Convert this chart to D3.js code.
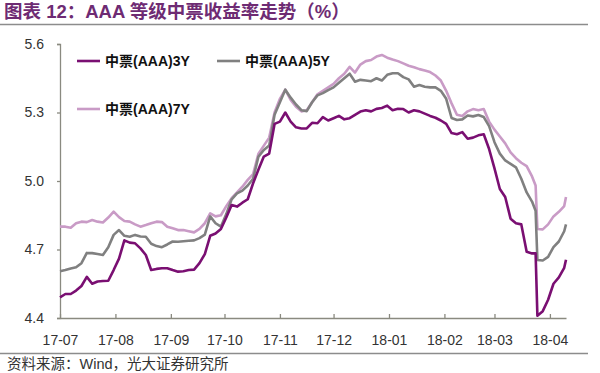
<!DOCTYPE html>
<html>
<head>
<meta charset="utf-8">
<script src="https://cdnjs.cloudflare.com/ajax/libs/d3/7.8.5/d3.min.js"></script>
<style>
body{margin:0;background:#fff}
svg{display:block;font-family:"Liberation Sans",Arial,"Noto Sans CJK SC",sans-serif}
</style>
</head>
<body>
<svg id="chart"></svg>
<script>
// dates and yields
var dates = ["2017-07-01","2017-07-04","2017-07-07","2017-07-10","2017-07-13","2017-07-16","2017-07-19","2017-07-22","2017-07-25","2017-07-28",
 "2017-07-31","2017-08-03","2017-08-06","2017-08-09","2017-08-12","2017-08-15","2017-08-18","2017-08-21","2017-08-24","2017-08-27",
 "2017-08-30","2017-09-02","2017-09-05","2017-09-08","2017-09-11","2017-09-14","2017-09-17","2017-09-20","2017-09-23","2017-09-26",
 "2017-09-29","2017-10-02","2017-10-05","2017-10-08","2017-10-11","2017-10-14","2017-10-17","2017-10-20","2017-10-23","2017-10-26",
 "2017-10-29","2017-11-01","2017-11-04","2017-11-07","2017-11-10","2017-11-13","2017-11-16","2017-11-19","2017-11-22","2017-11-25",
 "2017-11-28","2017-12-01","2017-12-04","2017-12-07","2017-12-10","2017-12-13","2017-12-16","2017-12-19","2017-12-22","2017-12-25",
 "2017-12-28","2017-12-31","2018-01-03","2018-01-06","2018-01-09","2018-01-12","2018-01-15","2018-01-18","2018-01-21","2018-01-24",
 "2018-01-27","2018-01-30","2018-02-02","2018-02-05","2018-02-08","2018-02-11","2018-02-14","2018-02-17","2018-02-20","2018-02-23",
 "2018-02-26","2018-03-01","2018-03-04","2018-03-07","2018-03-10","2018-03-13","2018-03-16","2018-03-19","2018-03-22","2018-03-24",
 "2018-03-25","2018-03-28","2018-03-31","2018-04-03","2018-04-06","2018-04-09","2018-04-10"]

var yield3Y = [4.49,4.505,4.505,4.52,4.54,4.58,4.55,4.56,4.562,4.563,
 4.61,4.66,4.74,4.73,4.727,4.705,4.676,4.61,4.615,4.618,
 4.618,4.61,4.603,4.605,4.61,4.612,4.64,4.68,4.76,4.77,
 4.79,4.84,4.895,4.888,4.905,4.92,4.99,5.05,5.107,5.12,
 5.25,5.26,5.30,5.26,5.235,5.23,5.23,5.255,5.253,5.28,
 5.265,5.275,5.285,5.27,5.275,5.29,5.304,5.31,5.305,5.316,
 5.32,5.33,5.31,5.316,5.315,5.30,5.31,5.305,5.295,5.285,
 5.277,5.265,5.25,5.21,5.205,5.214,5.185,5.19,5.20,5.205,
 5.14,5.055,4.965,4.93,4.835,4.815,4.81,4.69,4.683,4.683,
 4.41,4.43,4.48,4.55,4.578,4.62,4.655]

var yield5Y = [4.605,4.61,4.617,4.622,4.64,4.685,4.684,4.68,4.676,4.71,
 4.764,4.785,4.76,4.756,4.764,4.757,4.756,4.725,4.715,4.71,
 4.722,4.735,4.734,4.736,4.738,4.74,4.75,4.765,4.845,4.815,
 4.80,4.855,4.92,4.946,4.958,4.98,5.01,5.107,5.136,5.155,
 5.29,5.345,5.40,5.365,5.335,5.31,5.306,5.345,5.375,5.385,
 5.398,5.41,5.43,5.45,5.47,5.435,5.443,5.44,5.437,5.45,
 5.44,5.465,5.472,5.472,5.455,5.445,5.413,5.42,5.413,5.41,
 5.41,5.395,5.36,5.276,5.267,5.27,5.287,5.283,5.289,5.28,
 5.24,5.17,5.12,5.09,5.075,5.06,5.01,4.95,4.91,4.87,
 4.654,4.652,4.668,4.71,4.735,4.78,4.81]

var yield7Y = [4.80,4.80,4.795,4.815,4.822,4.82,4.829,4.822,4.818,4.84,
 4.866,4.842,4.825,4.822,4.81,4.80,4.807,4.815,4.822,4.82,
 4.80,4.793,4.785,4.785,4.78,4.775,4.79,4.815,4.858,4.845,
 4.85,4.89,4.925,4.95,4.975,5.005,5.03,5.12,5.155,5.19,
 5.30,5.36,5.40,5.355,5.325,5.305,5.31,5.345,5.38,5.395,
 5.41,5.425,5.45,5.47,5.50,5.475,5.51,5.525,5.53,5.545,
 5.552,5.54,5.532,5.525,5.515,5.505,5.498,5.49,5.484,5.477,
 5.462,5.44,5.395,5.34,5.29,5.285,5.305,5.315,5.31,5.315,
 5.26,5.225,5.195,5.165,5.125,5.10,5.08,5.065,5.02,4.98,
 4.79,4.788,4.81,4.845,4.865,4.89,4.93]

var seriesNames = ["中票(AAA)3Y","中票(AAA)5Y","中票(AAA)7Y"]
var seriesColors = ["#7a0f72","#808080","#c99bc6"]
var yTicks = [4.4,4.7,5.0,5.3,5.6]

var titleText = "图表 12：AAA 等级中票收益率走势（%）"
var sourceText = "资料来源：Wind，光大证券研究所"

var screen = {width:600,height:373}
var margins = {top:44,right:34,left:60,bottom:55}

var parseDate = d3.timeParse("%Y-%m-%d")
var allSeries = [yield3Y,yield5Y,yield7Y].map(function(vals,i){
    return {name:seriesNames[i], color:seriesColors[i],
            values:vals.map(function(v,j){ return {date:parseDate(dates[j]), value:v} })}
})

var svg = d3.select("#chart")
    .attr("width",screen.width)
    .attr("height",screen.height)

var width = screen.width - margins.left - margins.right
var height = screen.height - margins.top - margins.bottom

var xScale = d3.scaleTime()
    .domain([parseDate(dates[0]), parseDate(dates[dates.length-1])])
    .range([0,width])
var yScale = d3.scaleLinear()
    .domain([4.4,5.6])
    .range([height,0])

// title and source, with their rules
svg.append("text")
    .attr("x",4).attr("y",18)
    .attr("font-size",18.5).attr("font-weight","bold")
    .attr("fill","#6e2b73")
    .text(titleText)
svg.append("line")
    .attr("x1",0).attr("x2",588).attr("y1",24.5).attr("y2",24.5)
    .attr("stroke","#8c8c8c").attr("stroke-width",1.5)
svg.append("line")
    .attr("x1",0).attr("x2",588).attr("y1",353.5).attr("y2",353.5)
    .attr("stroke","#8c8c8c").attr("stroke-width",1.5)
svg.append("text")
    .attr("x",7).attr("y",369)
    .attr("font-size",14.5).attr("fill","#333")
    .text(sourceText)

var graph = svg.append("g")
    .attr("transform","translate("+margins.left+","+margins.top+")")

var yAxis = d3.axisLeft(yScale)
    .tickValues(yTicks)
    .tickFormat(d3.format(".1f"))
    .tickSize(3)
    .tickPadding(13)
var xAxis = d3.axisBottom(xScale)
    .ticks(d3.timeMonth.every(1))
    .tickFormat(d3.timeFormat("%y-%m"))
    .tickSizeInner(-4)
    .tickSizeOuter(0)
    .tickPadding(17)

graph.append("g").attr("class","axis")
    .call(yAxis)
graph.append("g").attr("class","axis")
    .attr("transform","translate(0,"+height+")")
    .call(xAxis)

graph.selectAll(".axis path, .axis line")
    .attr("stroke","#8a8a80").attr("stroke-width",1.3)
graph.selectAll(".axis text")
    .attr("font-size",14).attr("fill","#333")
    .attr("font-family","\"Liberation Sans\",Arial,sans-serif")

var lineGenerator = d3.line()
    .x(function(d){ return xScale(d.date) })
    .y(function(d){ return yScale(d.value) })

graph.selectAll(".series")
    .data(allSeries.slice().reverse())
    .enter()
    .append("path")
    .attr("class","series")
    .attr("fill","none")
    .attr("stroke",function(d){ return d.color })
    .attr("stroke-width",2.6)
    .attr("stroke-linejoin","round")
    .attr("d",function(d){ return lineGenerator(d.values) })

// legend
var legendPos = [[77,61],[217,61],[77,109]]
var legend = svg.selectAll(".legend")
    .data(allSeries)
    .enter()
    .append("g")
    .attr("class","legend")
    .attr("transform",function(d,i){ return "translate("+legendPos[i][0]+","+legendPos[i][1]+")" })
legend.append("line")
    .attr("x1",0).attr("x2",23)
    .attr("stroke",function(d){ return d.color })
    .attr("stroke-width",2.6)
legend.append("text")
    .attr("x",28).attr("y",5)
    .attr("font-size",14).attr("font-weight","bold")
    .attr("fill","#111")
    .text(function(d){ return d.name })
</script>
</body>
</html>
